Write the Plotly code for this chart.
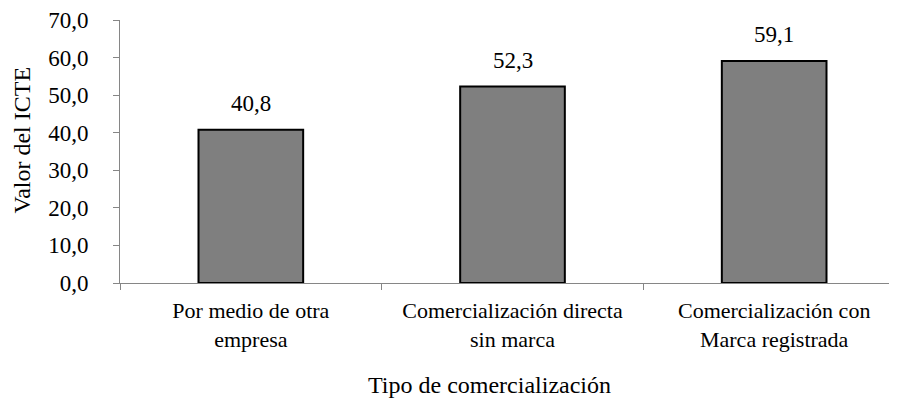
import plotly.graph_objects as go

categories = ["Por medio de otra<br>empresa", "Comercialización directa<br>sin marca", "Comercialización con<br>Marca registrada"]
values = [40.8, 52.3, 59.1]
y_ticks = [0, 10, 20, 30, 40, 50, 60, 70]

FONT = "Liberation Serif, Times New Roman, serif"
FS = 23

fig = go.Figure()
fig.add_trace(go.Bar(
    x=categories, y=values,
    width=0.4,
    marker=dict(color="#7f7f7f", line=dict(color="black", width=2)),
    hoverinfo="skip",
))

annotations = []
for c, v in zip(categories, values):
    annotations.append(dict(
        x=c, y=v, xref="x", yref="y", text=f"{v:.1f}".replace(".", ","),
        showarrow=False, yanchor="bottom", yshift=12,
        font=dict(family=FONT, size=FS, color="black"),
    ))

annotations += [
    dict(text="Valor del ICTE", xref="paper", yref="paper", x=-0.125, y=0.545,
         textangle=-90, showarrow=False, xanchor="center", yanchor="middle",
         font=dict(family=FONT, size=24, color="black")),
    dict(text="Tipo de comercialización", xref="paper", yref="paper", x=0.471, y=-0.388,
         showarrow=False, xanchor="center", yanchor="middle",
         font=dict(family=FONT, size=24, color="black")),
]

fig.update_layout(
    width=897, height=403,
    margin=dict(l=112, r=0, t=12, b=128, autoexpand=False),
    paper_bgcolor="white", plot_bgcolor="white",
    separators=",.",
    showlegend=False,
    font=dict(family=FONT, size=FS, color="black"),
    xaxis=dict(
        range=[-0.5, 2.5], automargin=False,
        showline=True, linecolor="#868686", linewidth=1,
        ticks="outside", tickson="boundaries", ticklen=6, tickcolor="#868686",
        ticklabelstandoff=8,
        tickfont=dict(family=FONT, size=22, color="black"),
        showgrid=False,
    ),
    yaxis=dict(
        range=[0, 70], tickvals=y_ticks, tickformat=".1f", automargin=False,
        showline=True, linecolor="#868686", linewidth=1,
        ticks="outside", ticklen=6, tickcolor="#868686",
        ticklabelstandoff=20,
        tickfont=dict(family=FONT, size=FS, color="black"),
        showgrid=False, zeroline=False,
    ),
    annotations=annotations,
)

fig.write_html("out.html")
